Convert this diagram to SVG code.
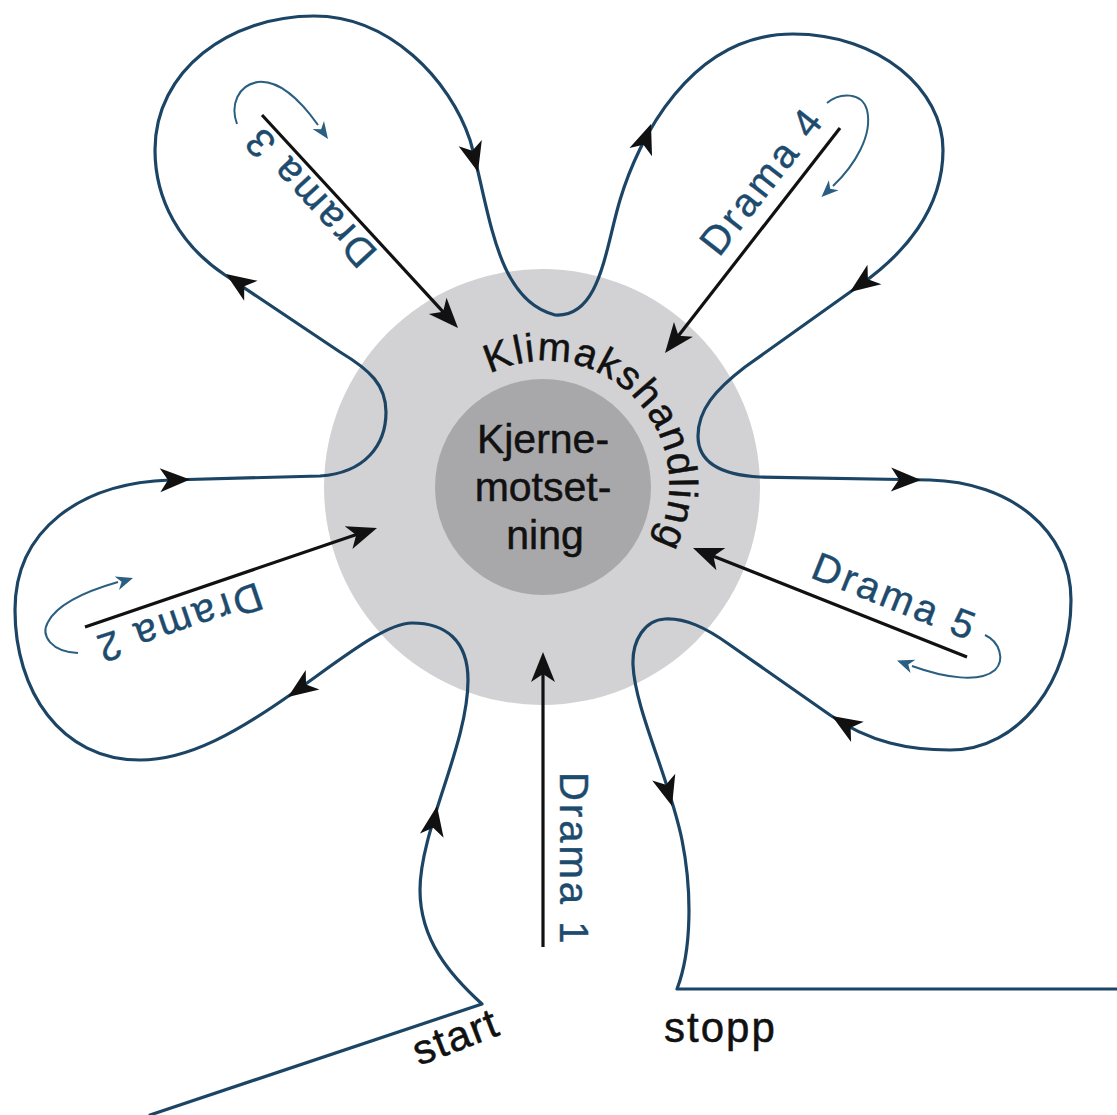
<svg xmlns="http://www.w3.org/2000/svg" xmlns:xlink="http://www.w3.org/1999/xlink" width="1117" height="1115" viewBox="0 0 1117 1115">
<style>
.flow{fill:none;stroke:#1c4565;stroke-width:3.2;stroke-linejoin:round;stroke-linecap:round}
.dline{stroke:#111;stroke-width:3.2;fill:none}
.curl{fill:none;stroke:#2a5f82;stroke-width:2}
.dtxt{font-family:"Liberation Sans",Arial,sans-serif;font-size:40px;letter-spacing:3px;fill:#1d4b6e;stroke:#1d4b6e;stroke-width:0.4}
.btxt{font-family:"Liberation Sans",Arial,sans-serif;fill:#111;stroke:#111;stroke-width:0.5}
</style>
<defs>
<path id="ah" d="M0 0 L-30 -12 L-22 0 L-30 12 Z" fill="#111"/>
<path id="sah" d="M0 0 L-17 -7 L-12 0 L-17 7 Z" fill="#2a5f82"/>
<path id="arcK" d="M489.9 373.9 A124 124 0 0 1 607 592.4"/>
</defs>
<rect width="1117" height="1115" fill="#fff"/>
<g id="core">
<circle cx="542" cy="487" r="218" fill="#d2d2d4"/>
<circle cx="543" cy="487" r="108" fill="#a8a8aa"/>
<text class="btxt" font-size="41" text-anchor="middle" x="543" y="453">Kjerne-</text>
<text class="btxt" font-size="41" text-anchor="middle" x="543" y="501">motset-</text>
<text class="btxt" font-size="41" text-anchor="middle" x="545" y="549">ning</text>
<text class="btxt" font-size="40" letter-spacing="1.5"><textPath href="#arcK">Klimaks</textPath></text>
<text class="btxt" font-size="40" letter-spacing="1.5"><textPath href="#arcK" startOffset="150.5">handling</textPath></text>
</g>
<g id="connectors">
<path class="flow" d="M150 1115 L482 1004 C450 975 420 940 420 890 C420 830 468 745 468 680 C468 640 445 623 412 623 C385 623 340 660 290 695 C240 730 190 760 140 760 C60 760 15 690 15 610 C15 530 80 483 170 480 L320 476 C365 473 386 445 386 412 C386 385 370 370 340 352 L225 275 C180 245 155 200 155 150 C155 70 230 16 314 16 C390 16 450 80 470 140 C490 210 495 300 555 315 C600 318 605 250 620 200 C638 140 690 34 793 34 C880 34 943 90 943 150 C943 210 903 255 860 285 L745 367 C715 390 698 410 698 436 C698 462 720 475 760 477 L930 480 C1010 482 1071 530 1071 600 C1071 680 1020 750 950 750 C910 750 870 743 830 715 L730 645 C705 627 685 618 665 619 C645 620 632 640 633 665 C635 710 670 780 682 840 C692 890 692 950 677 989 L1117 989"/>
<use href="#ah" transform="translate(437 806) rotate(-80)"/>
<use href="#ah" transform="translate(288 697) rotate(145)"/>
<use href="#ah" transform="translate(190 479.5) rotate(-1.5)"/>
<use href="#ah" transform="translate(226 274) rotate(214)"/>
<use href="#ah" transform="translate(478 172) rotate(75)"/>
<use href="#ah" transform="translate(651 124) rotate(-70)"/>
<use href="#ah" transform="translate(850 292) rotate(144.5)"/>
<use href="#ah" transform="translate(921 480) rotate(1)"/>
<use href="#ah" transform="translate(832 716) rotate(212)"/>
<use href="#ah" transform="translate(672 806) rotate(74)"/>
</g>
<g id="drama1">
<line class="dline" x1="543" y1="947" x2="543" y2="672"/>
<use href="#ah" transform="translate(543 652) rotate(-90)"/>
<text class="dtxt" transform="translate(560 772) rotate(90)">Drama 1</text>
</g>
<g id="drama2">
<line class="dline" x1="85" y1="627" x2="358" y2="534"/>
<use href="#ah" transform="translate(377 528) rotate(-18.7)"/>
<text class="dtxt" transform="translate(257 582) rotate(161.3)">Drama 2</text>
<path class="curl" d="M78 653 C52 652 40 636 48 622 C58 603 90 590 118 582"/>
<use href="#sah" transform="translate(133 578) rotate(-18)"/>
</g>
<g id="drama3">
<line class="dline" x1="262" y1="115" x2="444.5" y2="313.3"/>
<use href="#ah" transform="translate(458 328) rotate(47.4)"/>
<text class="dtxt" transform="translate(379 252) rotate(227.4)">Drama 3</text>
<path class="curl" d="M237 124 C230 105 238 85 258 82 C280 80 300 100 318 125"/>
<use href="#sah" transform="translate(328 139) rotate(55)"/>
</g>
<g id="drama4">
<line class="dline" x1="840" y1="128" x2="677.3" y2="337.2"/>
<use href="#ah" transform="translate(665 353) rotate(127.9)"/>
<text class="dtxt" transform="translate(719 258) rotate(-52.1)">Drama 4</text>
<path class="curl" d="M827 103 C840 92 862 92 867 110 C873 135 855 165 833 186"/>
<use href="#sah" transform="translate(821.5 197) rotate(136)"/>
</g>
<g id="drama5">
<line class="dline" x1="967" y1="657" x2="711.6" y2="555.4"/>
<use href="#ah" transform="translate(693 548) rotate(201.7)"/>
<text class="dtxt" transform="translate(809 577) rotate(21.7)">Drama 5</text>
<path class="curl" d="M985 635 C1000 642 1005 660 995 670 C980 683 945 678 912 666"/>
<use href="#sah" transform="translate(897 660.5) rotate(200)"/>
</g>
<g id="labels">
<text class="btxt" font-size="42" letter-spacing="1.5" transform="translate(419 1066) rotate(-21)">start</text>
<text class="btxt" font-size="42" letter-spacing="2" x="664" y="1042">stopp</text>
</g>
</svg>
